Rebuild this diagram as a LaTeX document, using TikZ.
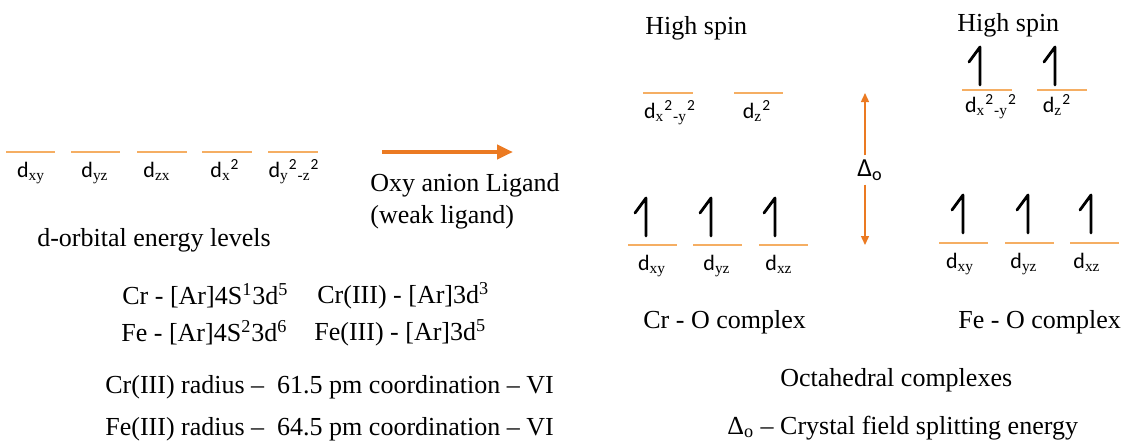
\documentclass[tikz,border=0pt]{standalone}
\usepackage{fontspec}
\setmainfont{Liberation Serif}
\newfontfamily\orbfont{Carlito}
\usetikzlibrary{arrows.meta}
\definecolor{lvlorange}{HTML}{F5AE63}
\definecolor{arrorange}{HTML}{EB7A22}
\tikzset{
  every picture/.style={line join=round},
  level/.style={lvlorange, line width=1pt},
  orb/.style={anchor=base, inner sep=0pt, font=\orbfont\fontsize{11}{13}\selectfont},
  txt/.style={anchor=west, inner sep=0pt, font=\fontsize{13}{15}\selectfont},
  bigarr/.style={-{Triangle[length=8pt, width=7pt]}, arrorange, line width=2pt},
  darr/.style={-{Triangle[length=4.5pt, width=4pt]}, arrorange, line width=0.7pt},
  % one electron: half arrow, placed at its top end
  spin/.pic={
    \draw[line width=1.4pt, line cap=round] (-11,15) -- (0,0) -- (0,38);
  },
}
\newcommand{\dsub}[1]{\textsubscript{\rmfamily #1}}

\begin{document}
\begin{tikzpicture}[x=0.5pt, y=-0.5pt]
  \useasboundingbox (0,0) rectangle (1126,445);
  % free ion: five degenerate levels
  \foreach \a/\b in {6/55, 71/120, 137/187, 202/252, 268/318}
    \draw[level] (\a,152) -- (\b,152);
  \node[orb] (fxy) at (31,177) {d\dsub{xy}};
  \node[orb] (fyz) at (95,177) {d\dsub{yz}};
  \node[orb] (fzx) at (157,177) {d\dsub{zx}};
  \node[orb] (fz2) at (225,177) {d\dsub{x}\textsuperscript{2}};
  \node[orb] (fx2) at (294,177) {d\dsub{y}\textsuperscript{2}\dsub{-z}\textsuperscript{2}};
  \node[txt, anchor=center] (free) at (154,240) {d-orbital energy levels};

  % ligand arrow
  \coordinate (lgA) at (382,152);
  \coordinate (lgB) at (513,152);
  \draw[bigarr] (lgA) -- (lgB);
  \node[txt] (lig1) at (370,185) {Oxy anion Ligand};
  \node[txt] (lig2) at (370,217) {(weak ligand)};

  % configurations
  \node[txt] (crcfg) at (122,296) {Cr - [Ar]4S\textsuperscript{1}3d\textsuperscript{5}};
  \node[txt] (cr3cfg) at (317,296) {Cr(III) - [Ar]3d\textsuperscript{3}};
  \node[txt] (fecfg) at (121,333) {Fe - [Ar]4S\textsuperscript{2}3d\textsuperscript{6}};
  \node[txt] (fe3cfg) at (314,333) {Fe(III) - [Ar]3d\textsuperscript{5}};
  \node[txt] (crrad) at (105,387) {Cr(III) radius --~ 61.5 pm coordination -- VI};
  \node[txt] (ferad) at (105,429) {Fe(III) radius --~ 64.5 pm coordination -- VI};

  % Cr - O complex
  \node[txt] (crhs) at (645,28) {High spin};
  \foreach \a/\b in {643/693, 734/783}
    \draw[level] (\a,93) -- (\b,93);
  \foreach \a/\b in {628/677, 693/742, 759/808}
    \draw[level] (\a,245) -- (\b,245);
  \foreach \x in {646, 711, 775}
    \pic at (\x,198) {spin};
  \node[orb] (cegx) at (670,118) {d\dsub{x}\textsuperscript{2}\dsub{-y}\textsuperscript{2}};
  \node[orb] (cegz) at (757,118) {d\dsub{z}\textsuperscript{2}};
  \node[orb] (cxy) at (652,270) {d\dsub{xy}};
  \node[orb] (cyz) at (717,270) {d\dsub{yz}};
  \node[orb] (cxz) at (779,270) {d\dsub{xz}};
  \node[txt] (crname) at (643,322) {Cr - O complex};

  % splitting
  \coordinate (dtop) at (865,93);
  \coordinate (dbot) at (865,245);
  \node[inner sep=2pt, font=\orbfont\fontsize{13}{15}\selectfont] (delta) at (870,170) {Δ\textsubscript{o}};
  \draw[darr] (dtop |- delta.north) -- (dtop);
  \draw[darr] (dbot |- delta.south) -- (dbot);

  % Fe - O complex
  \node[txt] (fehs) at (957,25) {High spin};
  \foreach \a/\b in {962/1012, 1037/1087}
    \draw[level] (\a,90) -- (\b,90);
  \foreach \a/\b in {939/988, 1005/1054, 1070/1119}
    \draw[level] (\a,243) -- (\b,243);
  \foreach \x in {980, 1055}
    \pic at (\x,47) {spin};
  \foreach \x in {963, 1028, 1091}
    \pic at (\x,195) {spin};
  \node[orb] (eegx) at (991,112) {d\dsub{x}\textsuperscript{2}\dsub{-y}\textsuperscript{2}};
  \node[orb] (eegz) at (1057,112) {d\dsub{z}\textsuperscript{2}};
  \node[orb] (exy) at (960,268) {d\dsub{xy}};
  \node[orb] (eyz) at (1024,268) {d\dsub{yz}};
  \node[orb] (exz) at (1087,268) {d\dsub{xz}};
  \node[txt] (fename) at (958,322) {Fe - O complex};

  \node[txt] (octa) at (780,380) {Octahedral complexes};
  \node[txt] (cfse) at (727,428) {Δ\textsubscript{o} -- Crystal field splitting energy};
\end{tikzpicture}
\end{document}
